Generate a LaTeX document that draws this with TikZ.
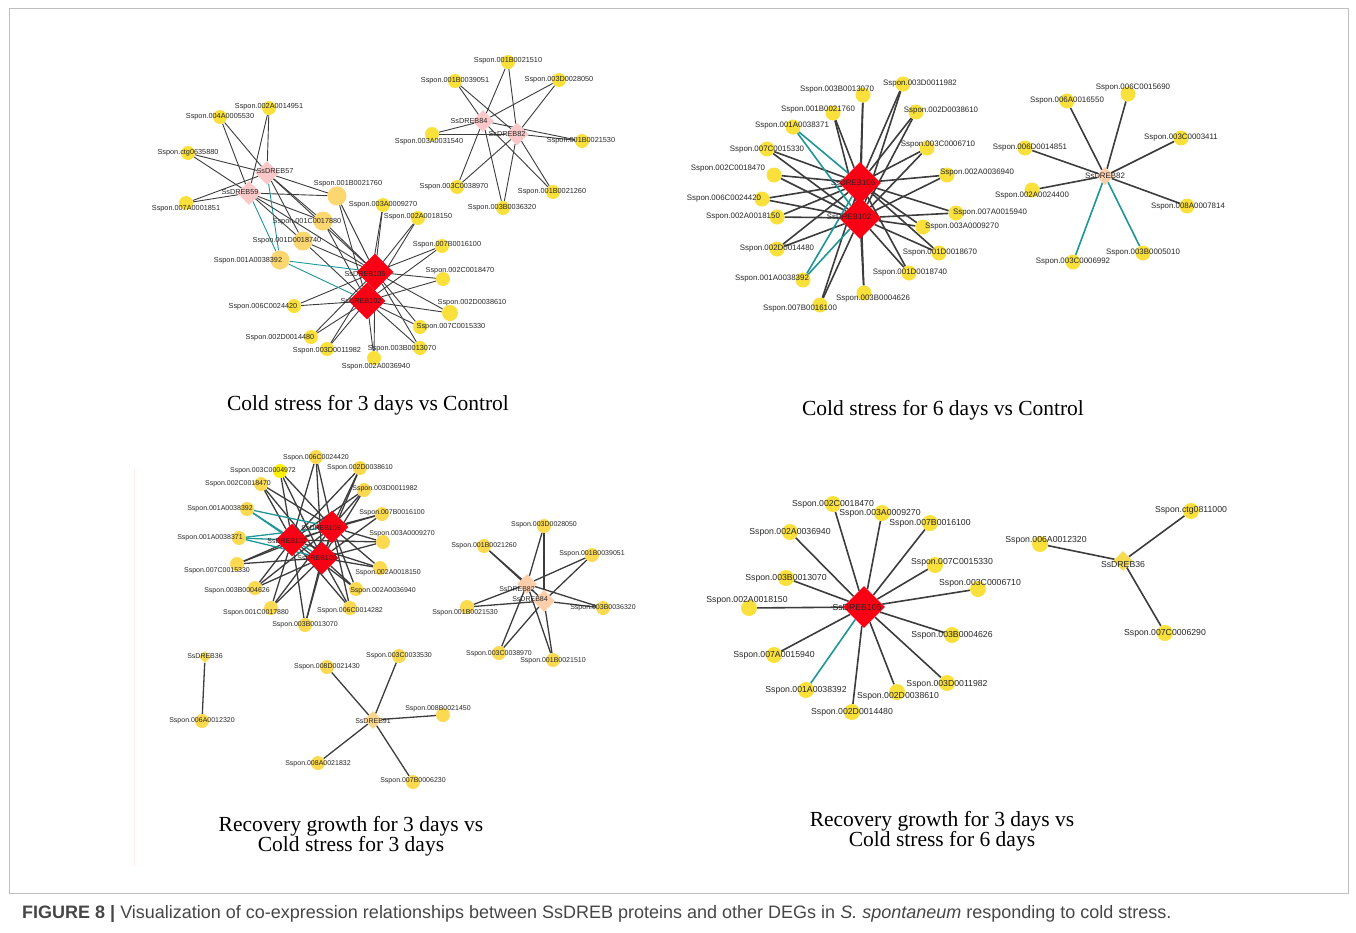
\documentclass[tikz,border=0pt]{standalone}
\usepackage{fontspec}
\setmainfont{Liberation Serif}
\setsansfont{Liberation Sans}
\usetikzlibrary{shapes.geometric, backgrounds}
\definecolor{geneyellow}{RGB}{249,224,58}
\definecolor{genegold}{RGB}{251,218,82}
\definecolor{geneorange}{RGB}{252,214,110}
\definecolor{brightyellow}{RGB}{255,240,0}
\definecolor{hubred}{RGB}{250,0,20}
\definecolor{hubpink}{RGB}{250,200,200}
\definecolor{hubpeach}{RGB}{252,206,170}
\definecolor{hubtan}{RGB}{250,214,140}
\definecolor{hubgold}{RGB}{246,218,80}
\definecolor{edgegray}{RGB}{60,60,60}
\definecolor{edgeteal}{RGB}{30,150,150}
\definecolor{capgray}{RGB}{70,70,70}
\begin{document}
\begin{tikzpicture}[x=1pt, y=-1pt,
    gene/.style={circle, fill=geneyellow, inner sep=0pt, minimum size=14},
    bright/.style={gene, fill=brightyellow},
    big/.style={gene, fill=geneorange, minimum size=19},
    hub/.style={diamond, fill=hubred, inner sep=0pt, minimum size=36},
    pinkhub/.style={hub, fill=hubpink, minimum size=24},
    lab/.style={font=\sffamily\fontsize{7.3}{8}\selectfont, inner sep=0pt, text=black!85},
    link/.style={draw=edgegray, line width=0.9},
    neg/.style={link, draw=edgeteal},
    title/.style={font=\fontsize{21.5}{24}\selectfont, align=center}]
\useasboundingbox (0,0) rectangle (1356,932);
\draw[black!25, line width=0.8] (9,8) rectangle (1348,893);
\draw[red!8, line width=1] (134,468) -- (134,866);

% Cold stress for 3 days vs Control
\begin{scope}
\node[pinkhub] (a57) at (267,173) {};
\node[pinkhub] (a59) at (249,193) {};
\node[hub, minimum size=37] (a105) at (375,272) {};
\node[hub, minimum size=37] (a102) at (367,301) {};
\node[gene] (a4951) at (269,108) {}; \node[lab] at (269,107) {Sspon.002A0014951};
\node[gene] (a5530) at (220,117) {}; \node[lab] at (220,117) {Sspon.004A0005530};
\node[gene] (a5880) at (188,153) {}; \node[lab] at (188,153) {Sspon.ctg0635880};
\node[gene] (a1851) at (186,203) {}; \node[lab] at (186,209) {Sspon.007A0001851};
\node[big] (a1760) at (337,196) {}; \node[lab] at (348,184) {Sspon.001B0021760};
\node[gene] (a9270) at (383,205) {}; \node[lab] at (383,205) {Sspon.003A0009270};
\node[gene] (a8150) at (418,218) {}; \node[lab] at (418,217) {Sspon.002A0018150};
\node[big] (a7880) at (323,221) {}; \node[lab] at (307,222) {Sspon.001C0017880};
\node[big] (a8740) at (303,241) {}; \node[lab] at (287,241) {Sspon.001D0018740};
\node[big] (a8392) at (280,260) {}; \node[lab] at (248,261) {Sspon.001A0038392};
\node[gene] (a6100) at (442,246) {}; \node[lab] at (447,245) {Sspon.007B0016100};
\node[gene] (a8470) at (443,279) {}; \node[lab] at (460,271) {Sspon.002C0018470};
\node[gene] (a4420) at (294,306) {}; \node[lab] at (263,307) {Sspon.006C0024420};
\node[gene, minimum size=16] (a8610) at (450,313) {}; \node[lab] at (472,303) {Sspon.002D0038610};
\node[gene] (a5330) at (420,327) {}; \node[lab] at (451,327) {Sspon.007C0015330};
\node[gene] (a4480) at (311,337) {}; \node[lab] at (280,338) {Sspon.002D0014480};
\node[gene] (a1982) at (327,349) {}; \node[lab] at (327,351) {Sspon.003D0011982};
\node[gene] (a3070) at (420,348) {}; \node[lab] at (402,349) {Sspon.003B0013070};
\node[gene] (a6940) at (374,358) {}; \node[lab] at (376,367) {Sspon.002A0036940};
\node[lab] at (275,171) {SsDREB57};
\node[lab] at (240,192) {SsDREB59};
\node[lab] at (365,274) {SsDREB105};
\node[lab] at (361,301) {SsDREB102};
\node[pinkhub, minimum size=22] (a84) at (483,121) {};
\node[pinkhub, minimum size=23] (a82) at (517,134) {};
\node[gene] (a1510) at (508,62) {}; \node[lab] at (508,61) {Sspon.001B0021510};
\node[gene] (a9051) at (455,81) {}; \node[lab] at (455,81) {Sspon.001B0039051};
\node[gene] (a8050) at (559,80) {}; \node[lab] at (559,80) {Sspon.003D0028050};
\node[gene] (a1540) at (432,134) {}; \node[lab] at (429,142) {Sspon.003A0031540};
\node[gene] (a1530) at (582,141) {}; \node[lab] at (581,141) {Sspon.001B0021530};
\node[gene] (a8970) at (457,187) {}; \node[lab] at (454,187) {Sspon.003C0038970};
\node[gene] (a1260) at (553,192) {}; \node[lab] at (552,192) {Sspon.001B0021260};
\node[gene] (a6320) at (503,208) {}; \node[lab] at (502,208) {Sspon.003B0036320};
\node[lab] at (469,121) {SsDREB84};
\node[lab] at (507,134) {SsDREB82};
\begin{scope}[on background layer]
\foreach \g in {a4951, a5530, a5880, a1851, a1760, a7880, a8740}
  {\draw[link] (a57) -- (\g); \draw[link] (a59) -- (\g);}
\draw[neg] (a57) -- (a8392);
\draw[neg] (a59) -- (a8392);
\draw[link] (a57) -- (a105);
\draw[link] (a59) -- (a105);
\foreach \g in {a1760, a9270, a8150, a7880, a8740, a6100, a8470, a4420, a8610, a5330, a4480, a1982, a3070, a6940}
  {\draw[link] (a105) -- (\g); \draw[link] (a102) -- (\g);}
\draw[neg] (a105) -- (a8392);
\draw[neg] (a102) -- (a8392);
\foreach \g in {a1510, a9051, a8050, a1540, a1530, a8970, a1260, a6320}
  {\draw[link] (a84) -- (\g); \draw[link] (a82) -- (\g);}
\end{scope}
\node[title] (t1) at (368,405) {Cold stress for 3 days vs Control};
\end{scope}

% Cold stress for 6 days vs Control
\begin{scope}[lab/.append style={font=\sffamily\fontsize{7.9}{9}\selectfont},
    gene/.append style={minimum size=15}, link/.append style={line width=1.6}]
\node[hub, minimum size=42] (b105) at (860,183) {};
\node[hub, minimum size=42] (b102) at (860,218) {};
\node[gene] (b3070) at (863,95) {}; \node[lab] at (837,90) {Sspon.003B0013070};
\node[gene] (b1982) at (903,84) {}; \node[lab] at (920,84) {Sspon.003D0011982};
\node[gene] (b1760) at (833,113) {}; \node[lab] at (818,110) {Sspon.001B0021760};
\node[gene] (b8610) at (916,112) {}; \node[lab] at (941,111) {Sspon.002D0038610};
\node[gene] (b8371) at (793,127) {}; \node[lab] at (792,126) {Sspon.001A0038371};
\node[gene] (b5330) at (767,149) {}; \node[lab] at (767,150) {Sspon.007C0015330};
\node[gene] (b6710) at (927,148) {}; \node[lab] at (938,145) {Sspon.003C0006710};
\node[gene] (b8470) at (774,175) {}; \node[lab] at (728,169) {Sspon.002C0018470};
\node[gene] (b6940) at (947,175) {}; \node[lab] at (977,173) {Sspon.002A0036940};
\node[gene] (b4420) at (762,199) {}; \node[lab] at (724,199) {Sspon.006C0024420};
\node[gene] (b5940) at (956,213) {}; \node[lab] at (990,213) {Sspon.007A0015940};
\node[gene] (b8150) at (777,217) {}; \node[lab] at (743,217) {Sspon.002A0018150};
\node[gene] (b9270) at (923,227) {}; \node[lab] at (962,227) {Sspon.003A0009270};
\node[gene] (b4480) at (777,249) {}; \node[lab] at (777,249) {Sspon.002D0014480};
\node[gene] (b8670) at (939,253) {}; \node[lab] at (940,253) {Sspon.001D0018670};
\node[gene] (b8740) at (909,273) {}; \node[lab] at (910,273) {Sspon.001D0018740};
\node[gene] (b8392) at (803,280) {}; \node[lab] at (772,279) {Sspon.001A0038392};
\node[gene] (b4626) at (864,293) {}; \node[lab] at (873,299) {Sspon.003B0004626};
\node[gene] (b6100) at (820,305) {}; \node[lab] at (800,309) {Sspon.007B0016100};
\node[lab] at (853,183) {SsDREB105};
\node[lab] at (849,217) {SsDREB102};
\node[hub, fill=hubpeach, minimum size=18] (b82) at (1105,176) {};
\node[gene] (b5690) at (1128,94) {}; \node[lab] at (1133,88) {Sspon.006C0015690};
\node[gene] (b6550) at (1067,101) {}; \node[lab] at (1067,101) {Sspon.006A0016550};
\node[gene] (b3411) at (1181,138) {}; \node[lab] at (1181,138) {Sspon.003C0003411};
\node[gene] (b4851) at (1025,148) {}; \node[lab] at (1030,148) {Sspon.006D0014851};
\node[gene] (b4400) at (1032,190) {}; \node[lab] at (1032,196) {Sspon.002A0024400};
\node[gene] (b7814) at (1187,206) {}; \node[lab] at (1188,207) {Sspon.008A0007814};
\node[gene] (b6992) at (1073,262) {}; \node[lab] at (1073,262) {Sspon.003C0006992};
\node[gene] (b5010) at (1143,253) {}; \node[lab] at (1143,253) {Sspon.003B0005010};
\node[lab] at (1105,176) {SsDREB82};
\begin{scope}[on background layer]
\foreach \g in {b3070, b1982, b1760, b8610, b5330, b6710, b8470, b6940, b4420, b5940, b8150, b9270, b4480, b8670, b8740, b4626, b6100}
  {\draw[link] (b105) -- (\g); \draw[link] (b102) -- (\g);}
\foreach \g in {b8371, b8392}
  {\draw[neg] (b105) -- (\g); \draw[neg] (b102) -- (\g);}
\foreach \g in {b5690, b6550, b3411, b4851, b4400, b7814}
  \draw[link] (b82) -- (\g);
\draw[neg] (b82) -- (b6992);
\draw[neg] (b82) -- (b5010);
\end{scope}
\node[title] (t2) at (943,410) {Cold stress for 6 days vs Control};
\end{scope}

% Recovery growth for 3 days vs Cold stress for 3 days
\begin{scope}[lab/.append style={font=\sffamily\fontsize{7}{8}\selectfont},
    gene/.append style={fill=genegold}, link/.append style={line width=1.3}]
\node[hub, minimum size=33] (c105) at (332,527) {};
\node[hub, minimum size=33] (c102) at (292,540) {};
\node[hub, minimum size=33] (c100) at (322,558) {};
\node[gene] (c4420) at (316,457) {}; \node[lab] at (316,458) {Sspon.006C0024420};
\node[bright] (c4972) at (280,471) {}; \node[lab] at (263,471) {Sspon.003C0004972};
\node[gene] (c8610) at (360,468) {}; \node[lab] at (360,468) {Sspon.002D0038610};
\node[gene] (c8470) at (261,484) {}; \node[lab] at (238,484) {Sspon.002C0018470};
\node[gene] (c1982) at (364,490) {}; \node[lab] at (385,489) {Sspon.003D0011982};
\node[gene] (c8392) at (247,509) {}; \node[lab] at (220,509) {Sspon.001A0038392};
\node[gene] (c6100) at (382,514) {}; \node[lab] at (392,513) {Sspon.007B0016100};
\node[gene] (c8371) at (239,538) {}; \node[lab] at (210,538) {Sspon.001A0038371};
\node[gene] (c9270) at (383,542) {}; \node[lab] at (402,534) {Sspon.003A0009270};
\node[gene] (c5330) at (237,564) {}; \node[lab] at (217,571) {Sspon.007C0015330};
\node[gene] (c8150) at (380,568) {}; \node[lab] at (388,573) {Sspon.002A0018150};
\node[gene] (c4626) at (255,588) {}; \node[lab] at (237,591) {Sspon.003B0004626};
\node[gene] (c6940) at (356,589) {}; \node[lab] at (383,591) {Sspon.002A0036940};
\node[gene] (c7880) at (271,608) {}; \node[lab] at (256,613) {Sspon.001C0017880};
\node[gene] (c4282) at (350,608) {}; \node[lab] at (350,611) {Sspon.006C0014282};
\node[gene] (c3070) at (305,625) {}; \node[lab] at (305,625) {Sspon.003B0013070};
\node[lab] at (321,528) {SsDREB105};
\node[lab] at (287,541) {SsDREB102};
\node[lab] at (317,558) {SsDREB100};
\node[hub, fill=hubpeach, minimum size=20] (c82) at (527,584) {};
\node[hub, fill=hubpeach, minimum size=22] (c84) at (544,601) {};
\node[gene] (c8050) at (544,526) {}; \node[lab] at (544,525) {Sspon.003D0028050};
\node[gene] (c1260) at (484,546) {}; \node[lab] at (484,546) {Sspon.001B0021260};
\node[gene] (c9051) at (592,555) {}; \node[lab] at (592,554) {Sspon.001B0039051};
\node[gene] (c1530) at (467,607) {}; \node[lab] at (465,613) {Sspon.001B0021530};
\node[gene] (c6320) at (603,608) {}; \node[lab] at (603,608) {Sspon.003B0036320};
\node[gene] (c8970) at (499,653) {}; \node[lab] at (499,654) {Sspon.003C0038970};
\node[gene] (c1510) at (553,660) {}; \node[lab] at (553,661) {Sspon.001B0021510};
\node[lab] at (517,589) {SsDREB82};
\node[lab] at (530,599) {SsDREB84};
\node[hub, fill=hubgold, minimum size=12] (c36) at (205,657) {};
\node[gene] (c2320) at (202,721) {}; \node[lab] at (202,721) {Sspon.006A0012320};
\node[lab] at (205,656) {SsDREB36};
\node[hub, fill=hubtan, minimum size=18] (c91) at (373,720) {};
\node[gene] (c1430) at (327,667) {}; \node[lab] at (327,667) {Sspon.008D0021430};
\node[gene] (c3530) at (399,656) {}; \node[lab] at (399,656) {Sspon.003C0033530};
\node[gene] (c1450) at (443,715) {}; \node[lab] at (438,709) {Sspon.008B0021450};
\node[gene] (c1832) at (318,763) {}; \node[lab] at (318,764) {Sspon.008A0021832};
\node[gene] (c6230) at (413,782) {}; \node[lab] at (413,781) {Sspon.007B0006230};
\node[lab] at (373,721) {SsDREB91};
\begin{scope}[on background layer]
\foreach \g in {c4420, c4972, c8610, c8470, c1982, c6100, c9270, c5330, c8150, c4626, c6940, c7880, c4282, c3070}
  {\draw[link] (c105) -- (\g); \draw[link] (c102) -- (\g); \draw[link] (c100) -- (\g);}
\foreach \g in {c8392, c8371}
  {\draw[neg] (c105) -- (\g); \draw[neg] (c102) -- (\g); \draw[neg] (c100) -- (\g);}
\foreach \g in {c8050, c1260, c9051, c1530, c6320, c8970, c1510}
  {\draw[link] (c82) -- (\g); \draw[link] (c84) -- (\g);}
\draw[link] (c36) -- (c2320);
\foreach \g in {c1430, c3530, c1450, c1832, c6230}
  \draw[link] (c91) -- (\g);
\end{scope}
\node[title] (t3) at (351,836) {Recovery growth for 3 days vs\\[-4pt]Cold stress for 3 days};
\end{scope}

% Recovery growth for 3 days vs Cold stress for 6 days
\begin{scope}[lab/.append style={font=\sffamily\fontsize{8.7}{10}\selectfont},
    gene/.append style={minimum size=16}, link/.append style={line width=1.6}]
\node[hub, minimum size=42] (d105) at (864,607) {};
\node[gene] (d8470) at (833,504) {}; \node[lab] at (833,504) {Sspon.002C0018470};
\node[gene] (d9270) at (882,513) {}; \node[lab] at (880,513) {Sspon.003A0009270};
\node[gene] (d6100) at (930,523) {}; \node[lab] at (930,523) {Sspon.007B0016100};
\node[gene] (d6940) at (790,532) {}; \node[lab] at (790,532) {Sspon.002A0036940};
\node[gene] (d5330) at (935,565) {}; \node[lab] at (952,562) {Sspon.007C0015330};
\node[gene] (d3070) at (786,578) {}; \node[lab] at (786,578) {Sspon.003B0013070};
\node[gene] (d6710) at (978,589) {}; \node[lab] at (980,583) {Sspon.003C0006710};
\node[gene] (d8150) at (749,608) {}; \node[lab] at (747,600) {Sspon.002A0018150};
\node[gene] (d4626) at (952,635) {}; \node[lab] at (952,635) {Sspon.003B0004626};
\node[gene] (d5940) at (774,655) {}; \node[lab] at (774,655) {Sspon.007A0015940};
\node[gene] (d1982) at (947,683) {}; \node[lab] at (947,684) {Sspon.003D0011982};
\node[gene] (d8392) at (806,690) {}; \node[lab] at (806,690) {Sspon.001A0038392};
\node[gene] (d8610) at (897,692) {}; \node[lab] at (898,696) {Sspon.002D0038610};
\node[gene] (d4480) at (852,712) {}; \node[lab] at (852,712) {Sspon.002D0014480};
\node[lab] at (857,607) {SsDREB105};
\node[hub, fill=hubgold, minimum size=20] (d36) at (1123,561) {};
\node[gene] (d1000) at (1191,511) {}; \node[lab] at (1191,510) {Sspon.ctg0811000};
\node[gene] (d2320) at (1040,544) {}; \node[lab] at (1046,540) {Sspon.006A0012320};
\node[gene] (d6290) at (1165,633) {}; \node[lab] at (1165,633) {Sspon.007C0006290};
\node[lab] at (1123,564) {SsDREB36};
\begin{scope}[on background layer]
\foreach \g in {d8470, d9270, d6100, d6940, d5330, d3070, d6710, d8150, d4626, d5940, d1982, d8610, d4480}
  \draw[link] (d105) -- (\g);
\draw[neg] (d105) -- (d8392);
\foreach \g in {d1000, d2320, d6290}
  \draw[link] (d36) -- (\g);
\end{scope}
\node[title] (t4) at (942,831) {Recovery growth for 3 days vs\\[-4pt]Cold stress for 6 days};
\end{scope}

\node[anchor=west, inner sep=0pt, text=capgray, font=\sffamily\fontsize{18}{20}\selectfont] (cap) at (22,914)
  {\textbf{FIGURE 8 |} Visualization of co-expression relationships between SsDREB proteins and other DEGs in \textit{S. spontaneum} responding to cold stress.};
\end{tikzpicture}
\end{document}
